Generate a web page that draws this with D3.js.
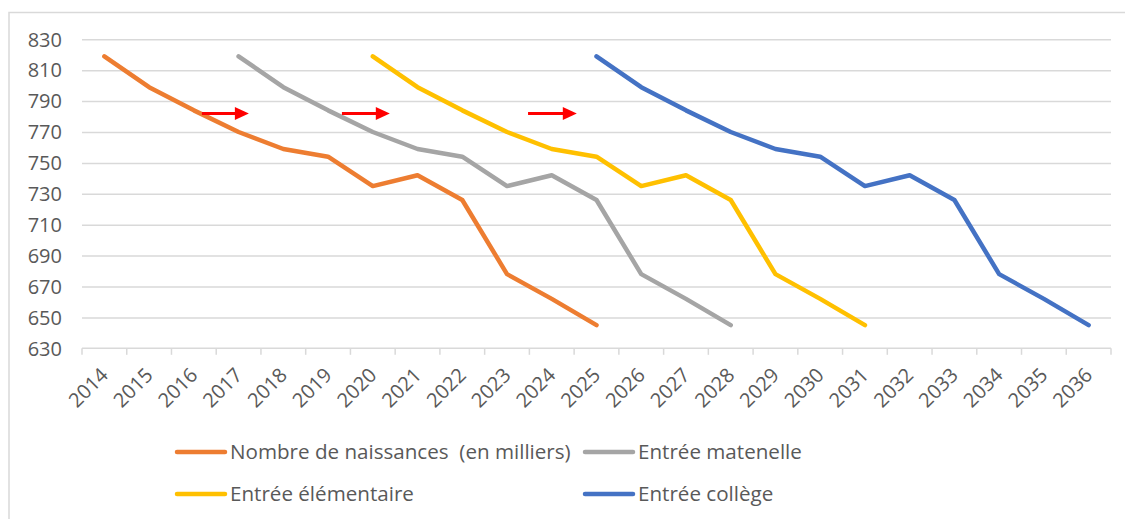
<!DOCTYPE html>
<html>
<head>
<meta charset="utf-8">
<script src="https://cdn.jsdelivr.net/npm/d3@7"></script>
<style>
  body { margin: 0; background: #fff; }
  svg { display: block; font-family: "Open Sans", sans-serif; }
  .frame { fill: none; stroke: #d9d9d9; stroke-width: 1.5; }
  .grid line { stroke: #d9d9d9; stroke-width: 1.5; }
  .grid .domain { display: none; }
  .axis text { fill: #595959; font-size: 20px; }
  .legend text { fill: #595959; font-size: 20.6px; white-space: pre; }
</style>
</head>
<body>
<div id="chart"></div>
<script>
// years on the category axis
const years = d3.range(2014, 2037);
const yTicks = [630, 650, 670, 690, 710, 730, 750, 770, 790, 810, 830];

// births in thousands, 2014-2025
const naissances = [819, 799, 784, 770, 759, 754, 735, 742, 726, 678, 662, 645];

const series = [
  { name: "Nombre de naissances  (en milliers)", start: 2014, values: naissances, color: "#ED7D31" },
  { name: "Entrée matenelle", start: 2017, values: naissances, color: "#A5A5A5" },
  { name: "Entrée élémentaire", start: 2020, values: naissances, color: "#FFC000" },
  { name: "Entrée collège", start: 2025, values: naissances, color: "#4472C4" },
];

// red arrows: from / to in (fractional) years, at a value
const arrows = [
  { from: 2016.18, to: 2017.23, value: 782 },
  { from: 2019.31, to: 2020.38, value: 782 },
  { from: 2023.47, to: 2024.56, value: 782 },
];

const width = 1125;
const height = 519;
const plot = { left: 82, right: 1111, top: 39.3, bottom: 348.3 };

const svg = d3.select("#chart").append("svg")
  .attr("width", width)
  .attr("height", height);

// chart frame (only top / left edges visible in the crop)
svg.append("path")
  .attr("class", "frame")
  .attr("d", `M9,${height + 2}V12.5H${width + 2}`);

const x = d3.scaleBand().domain(years).range([plot.left, plot.right]);
const xPos = d3.scaleLinear().domain([2013.5, 2036.5]).range([plot.left, plot.right]);
const y = d3.scaleLinear().domain([630, 830]).range([plot.bottom, plot.top]);

// horizontal gridlines
svg.append("g")
  .attr("class", "grid")
  .attr("transform", `translate(${plot.left},0)`)
  .call(d3.axisLeft(y).tickValues(yTicks.slice(1)).tickFormat("").tickSize(-(plot.right - plot.left)));

// y labels
const yAxis = svg.append("g").attr("class", "axis");
yAxis.selectAll("text")
  .data(yTicks)
  .join("text")
  .attr("x", 62)
  .attr("y", (d) => y(d))
  .attr("dy", "0.36em")
  .attr("text-anchor", "end")
  .text((d) => d);

// x axis: line + ticks between categories
const xAxis = svg.append("g").attr("class", "axis");
xAxis.append("line")
  .attr("x1", plot.left).attr("x2", plot.right)
  .attr("y1", plot.bottom).attr("y2", plot.bottom)
  .attr("stroke", "#d9d9d9").attr("stroke-width", 1.5);
xAxis.selectAll("line.tick")
  .data(years.concat([2037]))
  .join("line")
  .attr("class", "tick")
  .attr("x1", (d) => xPos(d - 0.5)).attr("x2", (d) => xPos(d - 0.5))
  .attr("y1", plot.bottom).attr("y2", plot.bottom + 6.5)
  .attr("stroke", "#d9d9d9").attr("stroke-width", 1.5);
xAxis.selectAll("text")
  .data(years)
  .join("text")
  .attr("text-anchor", "end")
  .attr("transform", (d) => `translate(${x(d) + x.bandwidth() / 2 + 5},${plot.bottom + 28}) rotate(-45)`)
  .text((d) => d);

// series lines
const line = d3.line()
  .x((d) => x(d.year) + x.bandwidth() / 2)
  .y((d) => y(d.value));

svg.append("g")
  .selectAll("path")
  .data(series)
  .join("path")
  .attr("fill", "none")
  .attr("stroke", (d) => d.color)
  .attr("stroke-width", 4.5)
  .attr("stroke-linejoin", "round")
  .attr("stroke-linecap", "round")
  .attr("d", (s) => line(s.values.map((v, i) => ({ year: s.start + i, value: v }))));

// red arrows
const arrowG = svg.append("g").selectAll("g").data(arrows).join("g");
arrowG.append("line")
  .attr("x1", (d) => xPos(d.from))
  .attr("x2", (d) => xPos(d.to) - 12)
  .attr("y1", (d) => y(d.value))
  .attr("y2", (d) => y(d.value))
  .attr("stroke", "#FF0000")
  .attr("stroke-width", 3);
arrowG.append("path")
  .attr("fill", "#FF0000")
  .attr("d", (d) => {
    const x2 = xPos(d.to), yy = y(d.value);
    return `M${x2},${yy}L${x2 - 14},${yy - 6.5}L${x2 - 14},${yy + 6.5}Z`;
  });

// legend
const legendPos = [
  { lx: 176, ty: 452 },
  { lx: 584, ty: 452 },
  { lx: 176, ty: 494 },
  { lx: 584, ty: 494 },
];
const legend = svg.append("g").attr("class", "legend")
  .selectAll("g")
  .data(series)
  .join("g")
  .attr("transform", (d, i) => `translate(${legendPos[i].lx},${legendPos[i].ty})`);
legend.append("line")
  .attr("x1", 1).attr("x2", 49)
  .attr("stroke", (d) => d.color)
  .attr("stroke-width", 4.5)
  .attr("stroke-linecap", "round");
legend.append("text")
  .attr("x", 54)
  .attr("dy", "0.35em")
  .text((d) => d.name);
</script>
</body>
</html>
